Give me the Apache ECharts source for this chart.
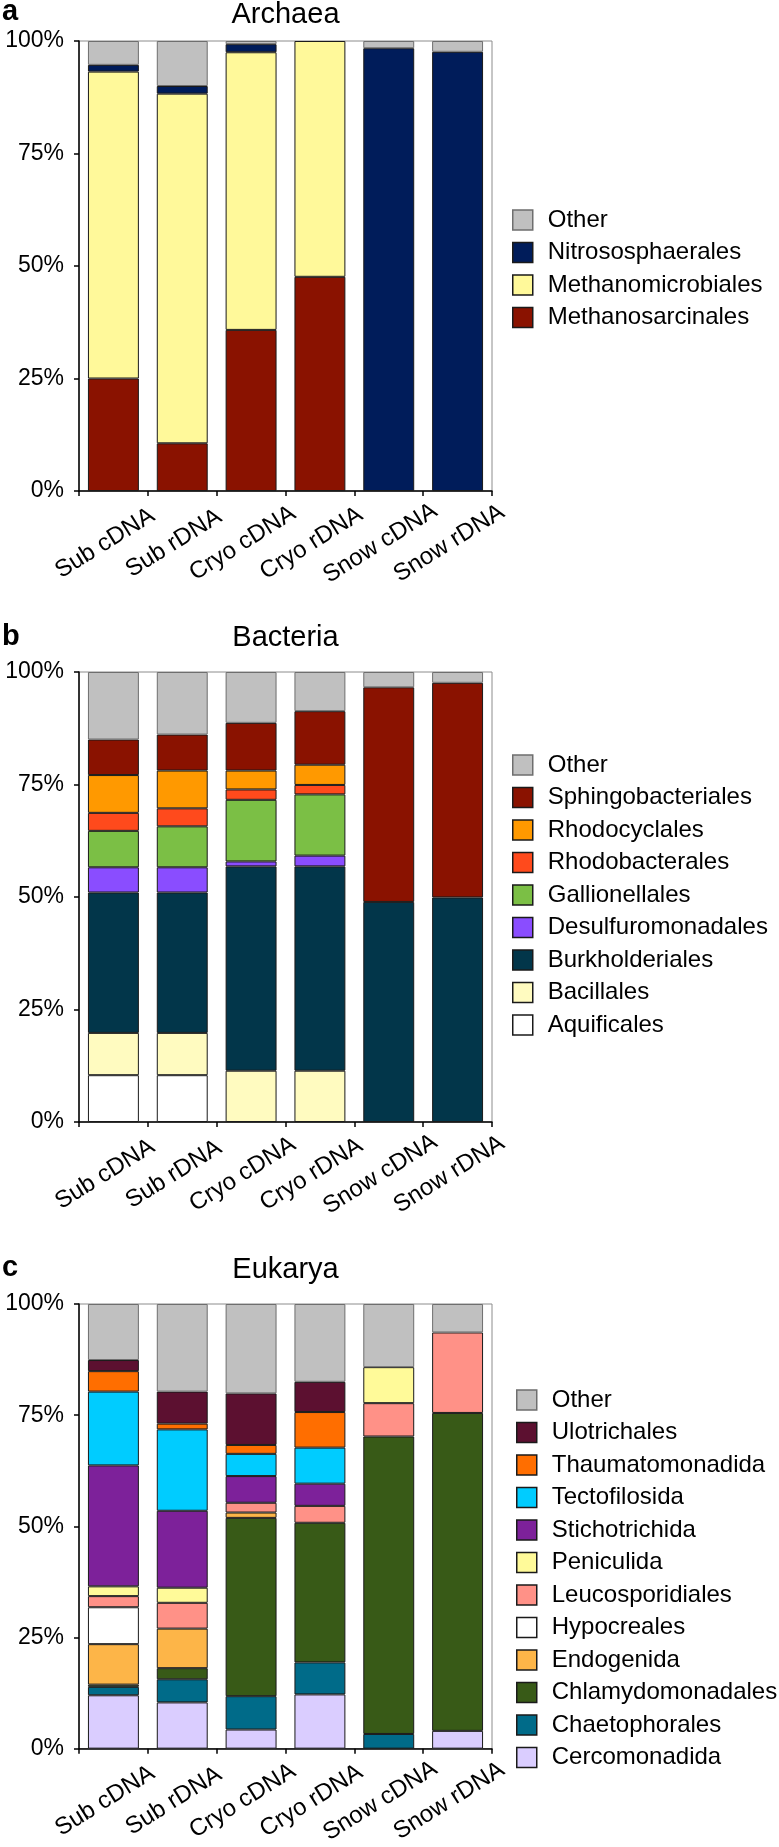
<!DOCTYPE html>
<html>
<head>
<meta charset="utf-8">
<script src="https://cdn.jsdelivr.net/npm/echarts@6/dist/echarts.min.js"></script>
<style>
html,body{margin:0;padding:0;background:#fff;}
#chart{width:779px;height:1847px;}
</style>
</head>
<body>
<div id="chart"></div>
<script>
// ---------- DATA ----------
const categories = ['Sub cDNA','Sub rDNA','Cryo cDNA','Cryo rDNA','Snow cDNA','Snow rDNA'];
const yTicks = [0, 25, 50, 75, 100];

// Archaea (stack order bottom -> top)
const archaeaNames = ['Methanosarcinales','Methanomicrobiales','Nitrososphaerales','Other'];
const methanosarcinales  = [25.0, 10.6, 35.8, 47.6, 0, 0];
const methanomicrobiales = [68.2, 77.7, 61.7, 52.4, 0, 0];
const nitrososphaerales  = [1.5, 1.7, 1.8, 0, 98.4, 97.6];
const archaeaOther       = [5.3, 10.0, 0.7, 0, 1.6, 2.4];

// Bacteria (bottom -> top)
const bacteriaNames = ['Aquificales','Bacillales','Burkholderiales','Desulfuromonadales','Gallionellales','Rhodobacterales','Rhodocyclales','Sphingobacteriales','Other'];
const aquificales        = [10.4, 10.4, 0, 0, 0, 0];
const bacillales         = [9.4, 9.4, 11.4, 11.4, 0, 0];
const burkholderiales    = [31.2, 31.2, 45.4, 45.4, 48.9, 49.9];
const desulfuromonadales = [5.6, 5.6, 1.1, 2.4, 0, 0];
const gallionellales     = [8.1, 9.1, 13.7, 13.6, 0, 0];
const rhodobacterales    = [4.0, 4.0, 2.3, 2.1, 0, 0];
const rhodocyclales      = [8.4, 8.4, 4.2, 4.5, 0, 0];
const sphingobacteriales = [7.9, 8.0, 10.6, 11.9, 47.7, 47.7];
const bacteriaOther      = [15.0, 13.9, 11.3, 8.7, 3.4, 2.4];

// Eukarya (bottom -> top)
const eukaryaNames = ['Cercomonadida','Chaetophorales','Chlamydomonadales','Endogenida','Hypocreales','Leucosporidiales','Peniculida','Stichotrichida','Tectofilosida','Thaumatomonadida','Ulotrichales','Other'];
const cercomonadida     = [12.0, 10.4, 4.3, 12.2, 0, 4.0];
const chaetophorales    = [1.9, 5.2, 7.5, 7.2, 3.3, 0];
const chlamydomonadales = [0.5, 2.5, 40.1, 31.4, 66.9, 71.5];
const endogenida        = [9.1, 8.9, 1.2, 0, 0, 0];
const hypocreales       = [8.3, 0, 0, 0, 0, 0];
const leucosporidiales  = [2.5, 5.8, 2.2, 3.8, 7.5, 18.1];
const peniculida        = [2.2, 3.4, 0, 0, 8.1, 0];
const stichotrichida    = [27.2, 17.3, 6.0, 5.0, 0, 0];
const tectofilosida     = [16.6, 18.3, 5.0, 8.1, 0, 0];
const thaumatomonadida  = [4.6, 1.3, 2.0, 8.0, 0, 0];
const ulotrichales      = [2.5, 7.2, 11.6, 6.8, 0, 0];
const eukaryaOther      = [12.6, 19.7, 20.1, 17.5, 14.2, 6.4];

// ---------- STYLE ----------
const FONT = '"Liberation Sans", Arial, sans-serif';
const colorsA = ['#8A1200','#FFF99A','#001C5A','#C0C0C0'];
const colorsB = ['#FFFFFF','#FFFBC0','#02364A','#8A4DFF','#7BBF45','#FF4A1C','#FF9900','#8A1200','#C0C0C0'];
const colorsC = ['#DACDFF','#006B89','#385A17','#FDB548','#FFFFFF','#FF9187','#FFFA99','#7D219A','#00CCFF','#FF6E00','#5C1030','#C0C0C0'];

const panels = [
  {title:'Archaea', letter:'a', top:41, height:450, names:archaeaNames, colors:colorsA,
   values:[methanosarcinales, methanomicrobiales, nitrososphaerales, archaeaOther], legendLeft:507, legendTop:203},
  {title:'Bacteria', letter:'b', top:672, height:450, names:bacteriaNames, colors:colorsB,
   values:[aquificales, bacillales, burkholderiales, desulfuromonadales, gallionellales, rhodobacterales, rhodocyclales, sphingobacteriales, bacteriaOther], legendLeft:507, legendTop:748},
  {title:'Eukarya', letter:'c', top:1304, height:452, names:eukaryaNames, colors:colorsC,
   values:[cercomonadida, chaetophorales, chlamydomonadales, endogenida, hypocreales, leucosporidiales, peniculida, stichotrichida, tectofilosida, thaumatomonadida, ulotrichales, eukaryaOther], legendLeft:511, legendTop:1383}
];

const GRID_LEFT = 79, GRID_W = 413;
const grids = [], xAxes = [], yAxes = [], series = [], legends = [], graphics = [];

panels.forEach((p, i) => {
  grids.push({left:GRID_LEFT, top:p.top, width:GRID_W, height:p.height, show:true,
    borderColor:'#8c8c8c', borderWidth:1, backgroundColor:'transparent', containLabel:false});
  xAxes.push({type:'category', gridIndex:i, data:categories,
    axisLine:{show:true, lineStyle:{color:'#000', width:1.5}},
    axisTick:{show:true, inside:false, length:5, lineStyle:{color:'#000', width:1.5}},
    axisLabel:{show:true, interval:0, rotate:32, align:'center', verticalAlign:'middle',
      margin:47, padding:[0,20,0,0], fontSize:24, color:'#000', fontFamily:FONT},
    splitLine:{show:false}});
  yAxes.push({type:'value', gridIndex:i, min:yTicks[0], max:yTicks[yTicks.length-1], interval:25,
    axisLine:{show:true, lineStyle:{color:'#000', width:1.5}},
    axisTick:{show:true, inside:false, length:5, lineStyle:{color:'#000', width:1.5}},
    axisLabel:{formatter:'{value}%', fontSize:23, color:'#000', fontFamily:FONT, margin:15},
    splitLine:{show:false}});
  p.names.forEach((n, k) => {
    series.push({
      name:n, type:'bar', stack:'s'+i, xAxisIndex:i, yAxisIndex:i,
      barCategoryGap:'26%',
      data:p.values[k].map(v => v === 0 ? null : v),
      itemStyle:{color:p.colors[k], borderColor: n==='Other' ? '#6e6e6e' : '#1a1a1a', borderWidth:1},
      emphasis:{disabled:true}, animation:false
    });
  });
  legends.push({orient:'vertical', left:p.legendLeft, top:p.legendTop,
    data:p.names.slice().reverse(), selectedMode:false,
    itemWidth:20, itemHeight:20, itemGap:8.5, icon:'rect',
    itemStyle:{borderWidth:1.5},
    textStyle:{fontSize:24, color:'#000', fontFamily:FONT, lineHeight:20, padding:[0,0,0,10]}});
  const tY = [15, 638, 1270][i];
  const lY = [12, 637, 1268][i];
  graphics.push({type:'text', left: undefined, x:GRID_LEFT + GRID_W/2, y:tY,
    style:{text:p.title, font:'29px ' + FONT, fill:'#000', textAlign:'center', textVerticalAlign:'middle'}});
  graphics.push({type:'text', x:2, y:lY,
    style:{text:p.letter, font:'bold 29px ' + FONT, fill:'#000', textAlign:'left', textVerticalAlign:'middle'}});
});

const chart = echarts.init(document.getElementById('chart'), null, {renderer:'canvas'});
chart.setOption({
  animation:false,
  backgroundColor:'#fff',
  grid:grids, xAxis:xAxes, yAxis:yAxes, series:series, legend:legends,
  graphic:graphics, tooltip:{show:false}
});
</script>
</body>
</html>
